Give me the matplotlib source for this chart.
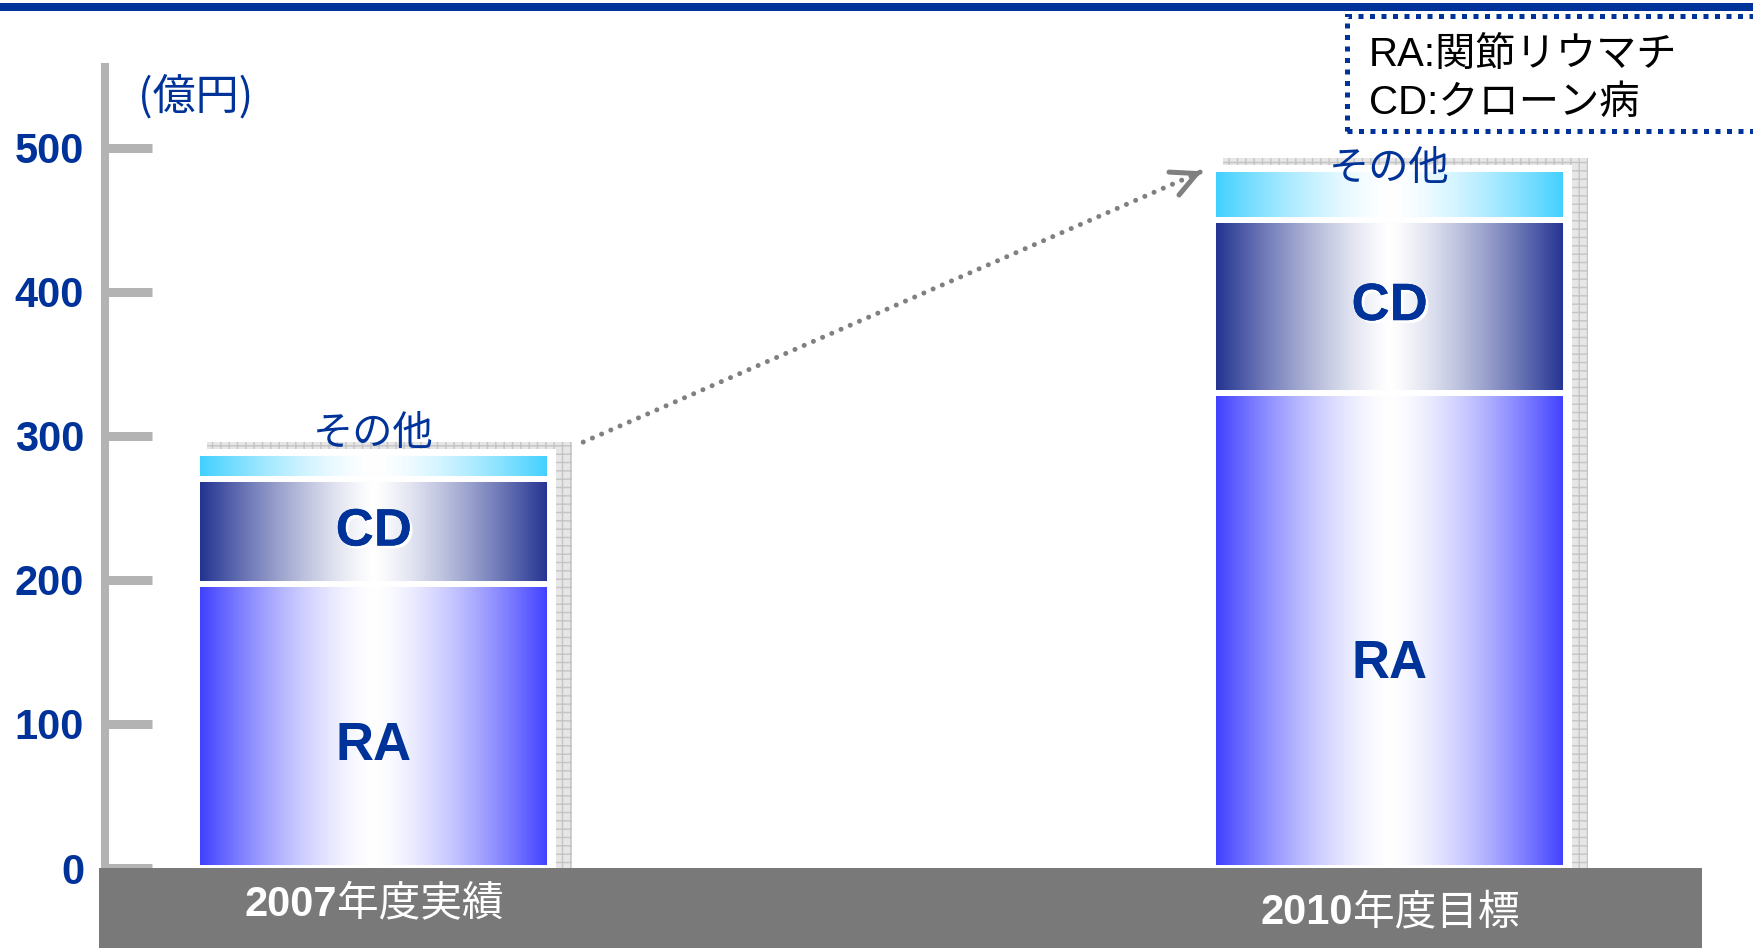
import numpy as np
import matplotlib
matplotlib.use('Agg')
import matplotlib.pyplot as plt
import matplotlib.patheffects as pe
from matplotlib.patches import Rectangle
from matplotlib.colors import to_rgb
from matplotlib.offsetbox import TextArea, HPacker, AnnotationBbox

plt.rcParams['font.family'] = ['Liberation Sans', 'Noto Sans CJK JP']

# data
category_years = ['2007', '2010']
category_suffixes = ['年度実績', '年度目標']
ra_values = [197, 330]
cd_values = [73, 120]
other_values = [18, 35]
y_ticks = [0, 100, 200, 300, 400, 500]
unit_label = '(億円)'
legend_lines = ['RA:関節リウマチ', 'CD:クローン病']

BLUE = '#003399'
GREY_AXIS = '#b3b3b3'
W, H = 1753, 948

fig = plt.figure(figsize=(W / 100, H / 100), dpi=100)
ax = fig.add_axes([105 / W, 1 - 868 / H, (1702 - 105) / W, (868 - 67) / H])
XLIM = (-0.2645, 1.3076)
YLIM = (0, 556)
PX_X = (XLIM[1] - XLIM[0]) / (1702 - 105)   # data units per pixel
PX_Y = (YLIM[1] - YLIM[0]) / (868 - 67)


def gradient(color, power=1.5, n=256):
    t = np.linspace(0, 1, n)
    f = np.abs(2 * t - 1) ** power
    c = np.array(to_rgb(color))
    arr = 1 - (1 - c)[None, :] * f[:, None]
    return arr[None, :, :]


x = np.arange(len(category_years))
width = 0.3475
totals = np.array(ra_values) + np.array(cd_values) + np.array(other_values)

# shadow + white backing behind each stack
for xi, tot in zip(x, totals):
    x0 = xi - width / 2
    ax.add_patch(Rectangle((x0 + 10 * PX_X, 0), width + 12 * PX_X, tot + 11 * PX_Y,
                           facecolor='#e6e6e6', edgecolor='#c4c4c4', hatch='++',
                           lw=0, zorder=1))
    ax.add_patch(Rectangle((x0 - 3 * PX_X, 0), width + 9 * PX_X, tot + 4 * PX_Y,
                           facecolor='white', lw=0, zorder=1.5))

segments = [
    ('RA', ra_values, '#3c3cff', 1.5),
    ('CD', cd_values, '#1f2f8f', 1.3),
    ('その他', other_values, '#3dcfff', 1.5),
]
bottom = np.zeros(len(x))
for name, vals, col, pw in segments:
    bars = ax.bar(x, vals, width, bottom=bottom, facecolor='none',
                  edgecolor='white', lw=4.3, zorder=3)
    for patch, xi, b, v in zip(bars.patches, x, bottom, vals):
        im = ax.imshow(gradient(col, pw), extent=(xi - width / 2, xi + width / 2, b, b + v),
                       aspect='auto', interpolation='bilinear', zorder=2.5)
        im.set_clip_path(patch)
        if name == 'RA':
            ax.text(xi, b + 0.43 * v, name, ha='center', va='center', fontsize=38,
                    fontweight='bold', color=BLUE, zorder=4)
        elif name == 'CD':
            ax.text(xi, b + 0.5 * v, name, ha='center', va='center', fontsize=38,
                    fontweight='bold', color=BLUE, zorder=4,
                    path_effects=[pe.withSimplePatchShadow(offset=(2, -2), shadow_rgbFace='white', alpha=1.0),
                                  pe.Normal()])
    bottom = bottom + np.array(vals)

# その他 labels above the stacks
other_label_lift_px = [20, 1]
for xi, tot, lift in zip(x, totals, other_label_lift_px):
    ax.text(xi, tot + lift * PX_Y, 'その他', ha='center', va='center', fontsize=29,
            color=BLUE, family='Noto Sans CJK JP', zorder=4)

# dotted growth arrow
sx, sy = x[0] + width / 2 + 33 * PX_X, totals[0] + 11 * PX_Y
ex, ey = x[1] - width / 2 - 11 * PX_X, totals[1] - 2 * PX_Y
ax.plot([sx, ex], [sy, ey], ls=(0, (0.01, 2.0)), lw=3.6, color='#808080',
        dash_capstyle='round', zorder=4)
ax.annotate('', xy=(ex, ey), xytext=(sx + 0.99 * (ex - sx), sy + 0.99 * (ey - sy)),
            arrowprops=dict(arrowstyle='->,head_length=0.9,head_width=0.45', lw=3.6,
                            color='#808080', mutation_scale=20, shrinkA=0, shrinkB=0),
            zorder=4)

# grey category band
ax.add_patch(Rectangle((XLIM[0] - 6 * PX_X, 0), XLIM[1] - XLIM[0] + 6 * PX_X, -80 * PX_Y,
                       facecolor='#797979', lw=0, zorder=5, clip_on=False))
label_drop_pt = [26.6, 32.4]
for xi, yr, suf, drop in zip(x, category_years, category_suffixes, label_drop_pt):
    box = HPacker(children=[
        TextArea(yr, textprops=dict(fontsize=30, fontweight='bold', color='white',
                                    family='Liberation Sans')),
        TextArea(suf, textprops=dict(fontsize=30, color='white', family='Noto Sans CJK JP')),
    ], sep=0, align='baseline', pad=0)
    ab = AnnotationBbox(box, (xi, 0), xybox=(0, -drop), boxcoords='offset points',
                        frameon=False, box_alignment=(0.5, 0.5), annotation_clip=False)
    ab.set_zorder(6)
    ax.add_artist(ab)

# axes styling
ax.set_xlim(*XLIM)
ax.set_ylim(*YLIM)
for s in ['top', 'right', 'bottom']:
    ax.spines[s].set_visible(False)
ax.spines['left'].set_color(GREY_AXIS)
ax.spines['left'].set_linewidth(5.8)
ax.set_xticks([])
ax.set_yticks(y_ticks)
ax.tick_params(axis='y', direction='in', length=34, width=6.5, color=GREY_AXIS,
               pad=15, labelsize=30, labelcolor=BLUE)
for lbl in ax.get_yticklabels():
    lbl.set_fontweight('bold')
ax.patch.set_visible(False)

# unit, top rule, legend box
fig.text(138 / W, 1 - 97 / H, unit_label, ha='left', va='center', fontsize=31,
         color=BLUE, family='Noto Sans CJK JP')
fig.add_artist(Rectangle((0, 1 - 11 / H), 1, 8 / H, transform=fig.transFigure,
                         facecolor=BLUE, lw=0))
fig.add_artist(Rectangle((1347 / W, 1 - 131 / H), (1765 - 1347) / W, (131 - 16) / H,
                         transform=fig.transFigure, fill=False, edgecolor=BLUE,
                         lw=3.6, linestyle=(0, (1, 1.3))))
for i, line in enumerate(legend_lines):
    fig.text(1369 / W, 1 - (55 + 48 * i) / H, line, ha='left', va='center',
             fontsize=29, color='black')

fig.savefig('out.png', dpi=100)
